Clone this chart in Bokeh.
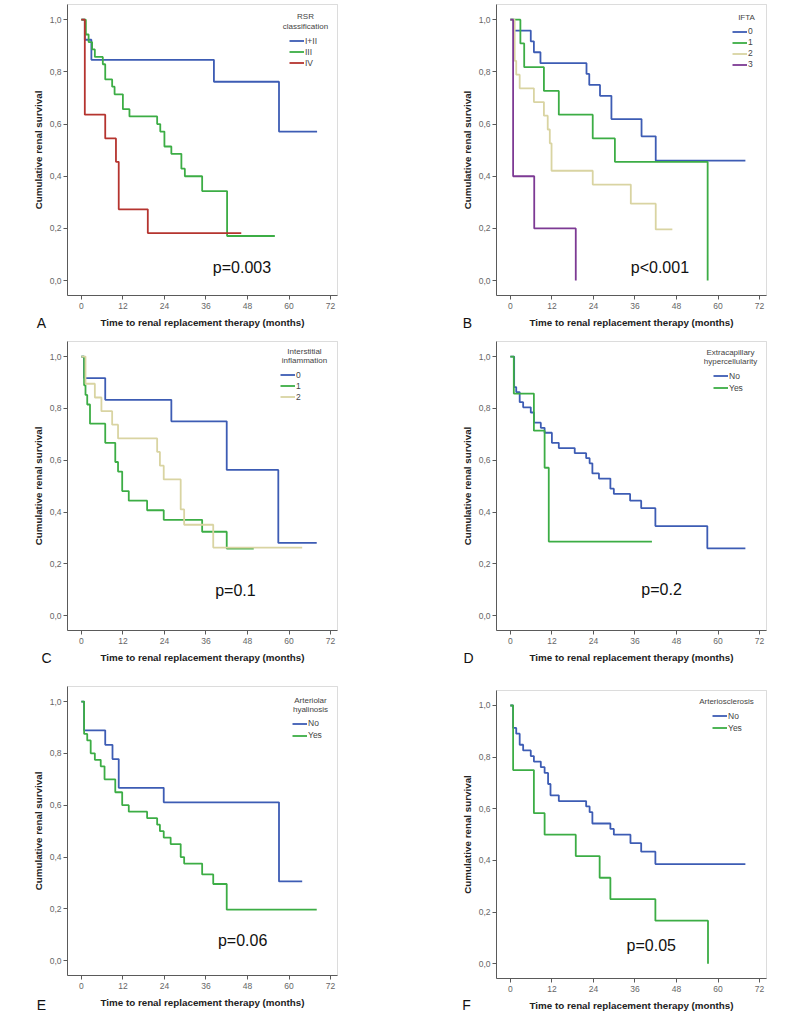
from bokeh.plotting import figure
from bokeh.models import (Label, Legend, LegendItem, FixedTicker, CustomJSTickFormatter,
                          Range1d, BoxAnnotation)
from bokeh.layouts import column, row
from bokeh.embed import file_html
from bokeh.resources import INLINE

# ---------------- data (Kaplan-Meier steps: time in months, cumulative survival) ----------------
# Panel A: RSR classification
a_i_ii_time = [0, 1.0, 2.9, 38.3, 57.1, 68.1]
a_i_ii_surv = [1.0, 0.923, 0.846, 0.762, 0.571, 0.571]
a_iii_time = [0, 1.3, 2.1, 3.1, 3.9, 6.2, 6.9, 8.9, 9.6, 12.0, 13.9, 21.9, 22.8, 24.0, 26.0, 28.9, 29.9, 34.9, 42.1, 55.9]
a_iii_surv = [1.0, 0.943, 0.914, 0.886, 0.857, 0.829, 0.771, 0.743, 0.714, 0.657, 0.629, 0.600, 0.571, 0.514, 0.486, 0.429, 0.400, 0.343, 0.171, 0.171]
a_iv_time = [0, 1.0, 6.9, 10.0, 10.8, 19.2, 46.2]
a_iv_surv = [1.0, 0.636, 0.545, 0.455, 0.273, 0.182, 0.182]

# Panel B: IFTA
b_0_time = [0, 1.0, 5.9, 6.8, 8.7, 22.0, 22.8, 25.9, 29.2, 37.9, 42.0, 67.9]
b_0_surv = [1.0, 0.958, 0.917, 0.875, 0.833, 0.792, 0.750, 0.708, 0.619, 0.553, 0.460, 0.460]
b_1_time = [0, 2.9, 4.0, 9.7, 14.0, 23.8, 30.2, 57.0]
b_1_surv = [1.0, 0.909, 0.818, 0.727, 0.636, 0.545, 0.455, 0.0]
b_2_time = [0, 1.25, 1.7, 2.7, 6.8, 9.7, 10.8, 11.4, 11.9, 23.8, 34.8, 42.0, 46.8]
b_2_surv = [1.0, 0.842, 0.789, 0.737, 0.684, 0.632, 0.579, 0.526, 0.421, 0.368, 0.295, 0.196, 0.196]
b_3_time = [0, 0.8, 6.9, 18.9]
b_3_surv = [1.0, 0.4, 0.2, 0.0]

# Panel C: Interstitial inflammation
c_0_time = [0, 0.8, 6.9, 26.0, 42.0, 56.9, 68.0]
c_0_surv = [1.0, 0.917, 0.833, 0.750, 0.5625, 0.281, 0.281]
c_1_time = [0, 0.8, 1.2, 1.7, 2.5, 6.9, 9.8, 10.6, 11.8, 13.7, 19.0, 23.8, 34.9, 42.0, 49.8]
c_1_surv = [1.0, 0.889, 0.852, 0.815, 0.741, 0.667, 0.593, 0.556, 0.481, 0.444, 0.407, 0.370, 0.324, 0.259, 0.259]
c_2_time = [0, 1.2, 3.9, 5.8, 8.9, 10.6, 21.9, 22.7, 23.8, 28.7, 29.7, 38.1, 63.8]
c_2_surv = [1.0, 0.895, 0.842, 0.789, 0.737, 0.684, 0.632, 0.579, 0.526, 0.410, 0.351, 0.263, 0.263]

# Panel D: Extracapillary hypercellularity
d_no_time = [0, 1.1, 1.7, 2.7, 3.7, 5.9, 6.8, 8.8, 9.9, 12.0, 14.0, 18.6, 21.9, 22.9, 23.7, 25.6, 28.9, 29.9, 34.6, 37.8, 41.9, 56.9, 67.9]
d_no_surv = [1.0, 0.882, 0.863, 0.824, 0.804, 0.784, 0.745, 0.725, 0.706, 0.667, 0.647, 0.627, 0.608, 0.588, 0.549, 0.529, 0.490, 0.470, 0.444, 0.415, 0.346, 0.260, 0.260]
d_yes_time = [0, 1.0, 6.8, 9.9, 11.1, 40.9]
d_yes_surv = [1.0, 0.857, 0.714, 0.571, 0.286, 0.286]

# Panel E: Arteriolar hyalinosis
e_no_time = [0, 0.8, 6.9, 9.0, 10.8, 23.8, 57.1, 63.8]
e_no_surv = [1.0, 0.889, 0.833, 0.778, 0.667, 0.611, 0.306, 0.306]
e_yes_time = [0, 0.8, 1.7, 2.7, 3.9, 5.6, 6.7, 9.8, 11.8, 13.7, 19.0, 21.9, 22.7, 23.8, 25.8, 28.7, 29.7, 34.9, 38.1, 42.0, 68.0]
e_yes_surv = [1.0, 0.875, 0.850, 0.800, 0.775, 0.750, 0.700, 0.650, 0.600, 0.575, 0.550, 0.525, 0.500, 0.475, 0.450, 0.400, 0.375, 0.333, 0.296, 0.197, 0.197]

# Panel F: Arteriosclerosis
f_no_time = [0, 0.8, 1.7, 2.7, 3.7, 5.9, 6.8, 8.8, 9.9, 10.9, 11.6, 14.0, 21.9, 22.9, 23.7, 28.9, 29.9, 34.7, 37.8, 41.9, 67.9]
f_no_surv = [1.0, 0.913, 0.891, 0.848, 0.826, 0.804, 0.783, 0.761, 0.739, 0.696, 0.652, 0.630, 0.609, 0.587, 0.543, 0.522, 0.500, 0.467, 0.434, 0.386, 0.386]
f_yes_time = [0, 0.8, 6.8, 9.9, 18.9, 25.8, 28.9, 41.9, 57.1]
f_yes_surv = [1.0, 0.750, 0.583, 0.500, 0.417, 0.333, 0.250, 0.167, 0.0]

x_ticks = [0, 12, 24, 36, 48, 60, 72]
y_ticks = [0.0, 0.2, 0.4, 0.6, 0.8, 1.0]
x_label = "Time to renal replacement therapy (months)"
y_label = "Cumulative renal survival"

# ---------------- styles ----------------
BLUE = "#3d5cb4"
GREEN = "#3cad45"
RED = "#b5342f"
TAN = "#d9d4a2"
PURPLE = "#7d3a94"
FONT = "Liberation Sans"

XMIN, XMAX = -4.0, 74.0        # visible axis box, data units
YMIN, YMAX = -0.057, 1.058
FW = 270                        # visible box width, px


def make_panel(series, legend_title, pval, pval_pos, letter, letter_off,
               W, H, bl, bt, fh, legend_pos, title_pos, item_spacing=0):
    kx = FW / (XMAX - XMIN)
    ky = fh / (YMAX - YMIN)

    def X(px):   # canvas px from left -> data x
        return XMIN + (px - bl) / kx

    def Y(py):   # canvas px from top -> data y
        return YMAX - (py - bt) / ky

    p = figure(width=W, height=H,
               x_range=Range1d(X(0), X(W)), y_range=Range1d(Y(H), Y(0)),
               output_backend="svg", toolbar_location=None,
               min_border_left=0, min_border_right=0,
               min_border_top=0, min_border_bottom=0)
    p.grid.visible = False
    p.outline_line_color = None
    p.background_fill_color = "white"
    p.border_fill_color = "white"

    # light frame box around the plotting area
    p.add_layout(BoxAnnotation(left=XMIN, right=XMAX, bottom=YMIN, top=YMAX,
                               fill_alpha=0, line_color="#8c8c8c", line_width=1,
                               level="underlay"))

    items = []
    for name, t, s, color in series:
        r = p.step(t, s, mode="after", line_color=color, line_width=1.8)
        items.append(LegendItem(label=name, renderers=[r]))

    p.xaxis.fixed_location = YMIN
    p.yaxis.fixed_location = XMIN
    p.xaxis.bounds = (XMIN, XMAX)
    p.yaxis.bounds = (YMIN, YMAX)
    for ax in (p.xaxis[0], p.yaxis[0]):
        ax.axis_line_color = "#5a5a5a"
        ax.major_tick_line_color = "#5a5a5a"
        ax.minor_tick_line_color = None
        ax.major_tick_in = 0
        ax.major_tick_out = 4
        ax.major_label_text_font = FONT
        ax.major_label_text_font_size = "8.5px"
        ax.major_label_text_color = "#666666"
        ax.axis_label_text_font = FONT
        ax.axis_label_text_font_style = "bold"
        ax.axis_label_text_font_size = "9.8px"
        ax.axis_label_text_color = "#222222"

    p.xaxis.ticker = FixedTicker(ticks=x_ticks)
    p.yaxis.ticker = FixedTicker(ticks=y_ticks)
    p.yaxis.formatter = CustomJSTickFormatter(code="return tick.toFixed(1).replace('.', ',');")
    p.xaxis.axis_label = x_label
    p.yaxis.axis_label = y_label
    p.xaxis.major_label_standoff = 3
    p.xaxis.axis_label_standoff = 5
    p.yaxis.major_label_standoff = 2
    p.yaxis.axis_label_standoff = 3

    # legend (items)
    lx, c0 = legend_pos
    n = len(items)
    item_h = 11
    leg_h = n * item_h + (n - 1) * item_spacing
    top = bt + c0 - item_h / 2
    leg = Legend(items=items, location=(bl + lx - 16, H - top - leg_h),
                 glyph_width=15, glyph_height=item_h, label_height=item_h,
                 label_width=10, spacing=item_spacing, padding=0, margin=0,
                 label_standoff=1, border_line_color=None,
                 background_fill_alpha=0,
                 label_text_font=FONT, label_text_font_size="8.5px",
                 label_text_color="#444444")
    p.add_layout(leg)

    # legend heading
    tcx, ttop = title_pos
    p.add_layout(Label(x=X(bl + tcx), y=Y(bt + ttop), text=legend_title,
                       text_align="center", text_baseline="top",
                       text_font=FONT, text_font_size="8px",
                       text_color="#444444", text_line_height=1.1))

    # p-value
    p.add_layout(Label(x=pval_pos[0], y=pval_pos[1], text=pval,
                       text_align="center", text_baseline="middle",
                       text_font=FONT, text_font_size="16px", text_color="#111111"))

    # panel letter
    ox, oy = letter_off
    p.add_layout(Label(x=X(bl - ox), y=Y(bt + fh + oy), text=letter,
                       text_align="center", text_baseline="middle",
                       text_font=FONT, text_font_size="14px", text_color="#111111"))
    return p


W1, W2 = 398, 390
H1, H2, H3 = 337, 340, 336

pa = make_panel([("I+II", a_i_ii_time, a_i_ii_surv, BLUE),
                 ("III", a_iii_time, a_iii_surv, GREEN),
                 ("IV", a_iv_time, a_iv_surv, RED)],
                "RSR\nclassification", "p=0.003", (46.4, 0.051), "A", (26, 27),
                W1, H1, 67, 4, 291, (238, 36.7), (238, 7.5))

pb = make_panel([("0", b_0_time, b_0_surv, BLUE),
                 ("1", b_1_time, b_1_surv, GREEN),
                 ("2", b_2_time, b_2_surv, TAN),
                 ("3", b_3_time, b_3_surv, PURPLE)],
                "IFTA", "p<0.001", (43.2, 0.05), "B", (29, 27),
                W2, H1, 98, 4, 291, (252, 27.3), (250, 8.0))

pc = make_panel([("0", c_0_time, c_0_surv, BLUE),
                 ("1", c_1_time, c_1_surv, GREEN),
                 ("2", c_2_time, c_2_surv, TAN)],
                "Interstitial\ninflammation", "p=0.1", (44.5, 0.096), "C", (21, 27),
                W1, H2, 67, 4, 289, (229, 33.7), (237, 5.0))

pd_ = make_panel([("No", d_no_time, d_no_surv, BLUE),
                  ("Yes", d_yes_time, d_yes_surv, GREEN)],
                 "Extracapillary\nhypercellularity", "p=0.2", (43.7, 0.103), "D", (28, 27),
                 W2, H2, 98, 4, 289, (233, 34.7), (234, 6.0), item_spacing=1)

pe = make_panel([("No", e_no_time, e_no_surv, BLUE),
                 ("Yes", e_yes_time, e_yes_surv, GREEN)],
                "Arteriolar\nhyalinosis", "p=0.06", (46.6, 0.077), "E", (26, 29),
                W1, H3, 67, 9, 289, (241, 37.0), (243, 9.0), item_spacing=1)

pf = make_panel([("No", f_no_time, f_no_surv, BLUE),
                 ("Yes", f_yes_time, f_yes_surv, GREEN)],
                "Arteriosclerosis", "p=0.05", (40.7, 0.070), "F", (30, 26),
                W2, H3, 98, 13, 288, (232, 25.7), (230, 6.0), item_spacing=1)

layout = column(row(pa, pb), row(pc, pd_), row(pe, pf))

with open("out.html", "w") as fh_:
    fh_.write(file_html(layout, INLINE))
